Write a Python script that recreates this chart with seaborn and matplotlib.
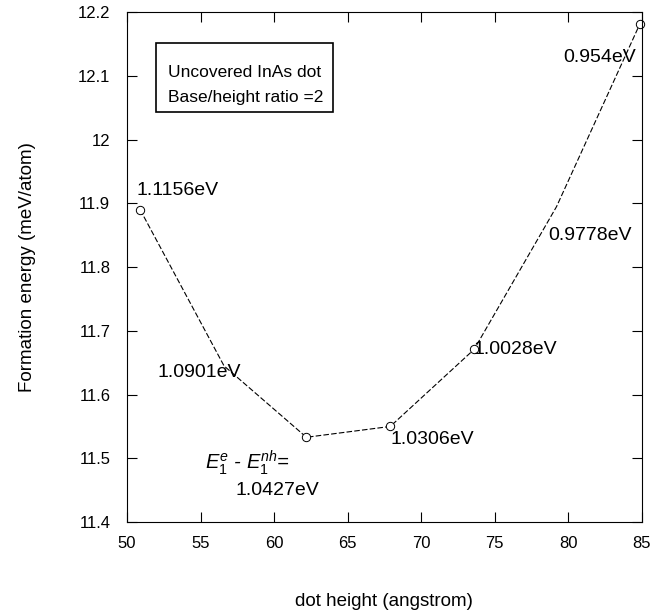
import matplotlib
matplotlib.use("Agg")
import matplotlib.pyplot as plt
import seaborn as sns
import pandas as pd
from matplotlib.patches import Rectangle
from matplotlib.ticker import FuncFormatter

# data
dot_height = [50.9, 56.6, 62.2, 67.9, 73.6, 79.2, 84.85]
formation_energy = [11.890, 11.645, 11.533, 11.550, 11.671, 11.895, 12.181]
marked = [0, 2, 3, 4, 6]   # points drawn with a circle

gap_labels = ["1.1156eV", "1.0901eV", "1.0306eV", "1.0028eV", "0.9778eV", "0.954eV"]
gap_label_x = [50.68, 52.1, 67.9, 73.55, 78.64, 79.66]
gap_label_y = [11.921, 11.635, 11.530, 11.671, 11.850, 12.129]

x_ticks = [50, 55, 60, 65, 70, 75, 80, 85]
y_ticks = [11.4, 11.5, 11.6, 11.7, 11.8, 11.9, 12.0, 12.1, 12.2]

box_lines = ["Uncovered InAs dot", "Base/height ratio =2"]

sns.set_style("ticks")
plt.rcParams["font.family"] = ["Liberation Sans", "DejaVu Sans"]
plt.rcParams["text.color"] = "black"
plt.rcParams["axes.labelcolor"] = "black"
plt.rcParams["mathtext.fontset"] = "custom"
plt.rcParams["mathtext.rm"] = "Liberation Sans"
plt.rcParams["mathtext.it"] = "Liberation Sans:italic"

df = pd.DataFrame({"height": dot_height, "energy": formation_energy})

fig = plt.figure(figsize=(6.51, 6.12), dpi=100)
ax = fig.add_axes([0.195, 0.147, 0.791, 0.833])

sns.lineplot(
    data=df, x="height", y="energy", ax=ax, sort=False,
    color="black", linewidth=0.8, linestyle=(0, (5, 2)),
    marker="o", markevery=marked, markersize=6,
    markerfacecolor="white", markeredgecolor="black", markeredgewidth=0.7,
    clip_on=False,
)

for txt, lx, ly in zip(gap_labels, gap_label_x, gap_label_y):
    ax.text(lx, ly, txt, fontsize=14, ha="left", va="center")

ax.text(55.3, 11.493, r"$\mathit{E_1^e}$ - $\mathit{E_1^{nh}}$=",
        fontsize=14.5, ha="left", va="center", style="italic")
ax.text(57.35, 11.449, "1.0427eV", fontsize=14, ha="left", va="center")

# framed note in the upper left
ax.add_patch(Rectangle((0.0563, 0.804), 0.344, 0.135, transform=ax.transAxes,
                       facecolor="white", edgecolor="black", linewidth=1.2,
                       zorder=3))
ax.text(0.0796, 0.881, box_lines[0], transform=ax.transAxes, fontsize=12.5,
        ha="left", va="center", zorder=4)
ax.text(0.0796, 0.833, box_lines[1], transform=ax.transAxes, fontsize=12.5,
        ha="left", va="center", zorder=4)

ax.set_xlim(50, 85)
ax.set_ylim(11.4, 12.2)
ax.set_xticks(x_ticks)
ax.set_yticks(y_ticks)
ax.yaxis.set_major_formatter(FuncFormatter(lambda v, p: f"{v:g}"))

ax.tick_params(direction="in", length=7, width=0.8, top=True, right=True,
               labelsize=12, colors="black")
ax.tick_params(axis="y", pad=12)
ax.tick_params(axis="x", pad=10)
for s in ax.spines.values():
    s.set_visible(True)
    s.set_linewidth(0.8)
    s.set_color("black")

ax.set_xlabel("dot height (angstrom)", fontsize=13.5, labelpad=30)
ax.set_ylabel("Formation energy (meV/atom)", fontsize=13.5, labelpad=30)

fig.savefig("out.png", dpi=100)
plt.close(fig)
